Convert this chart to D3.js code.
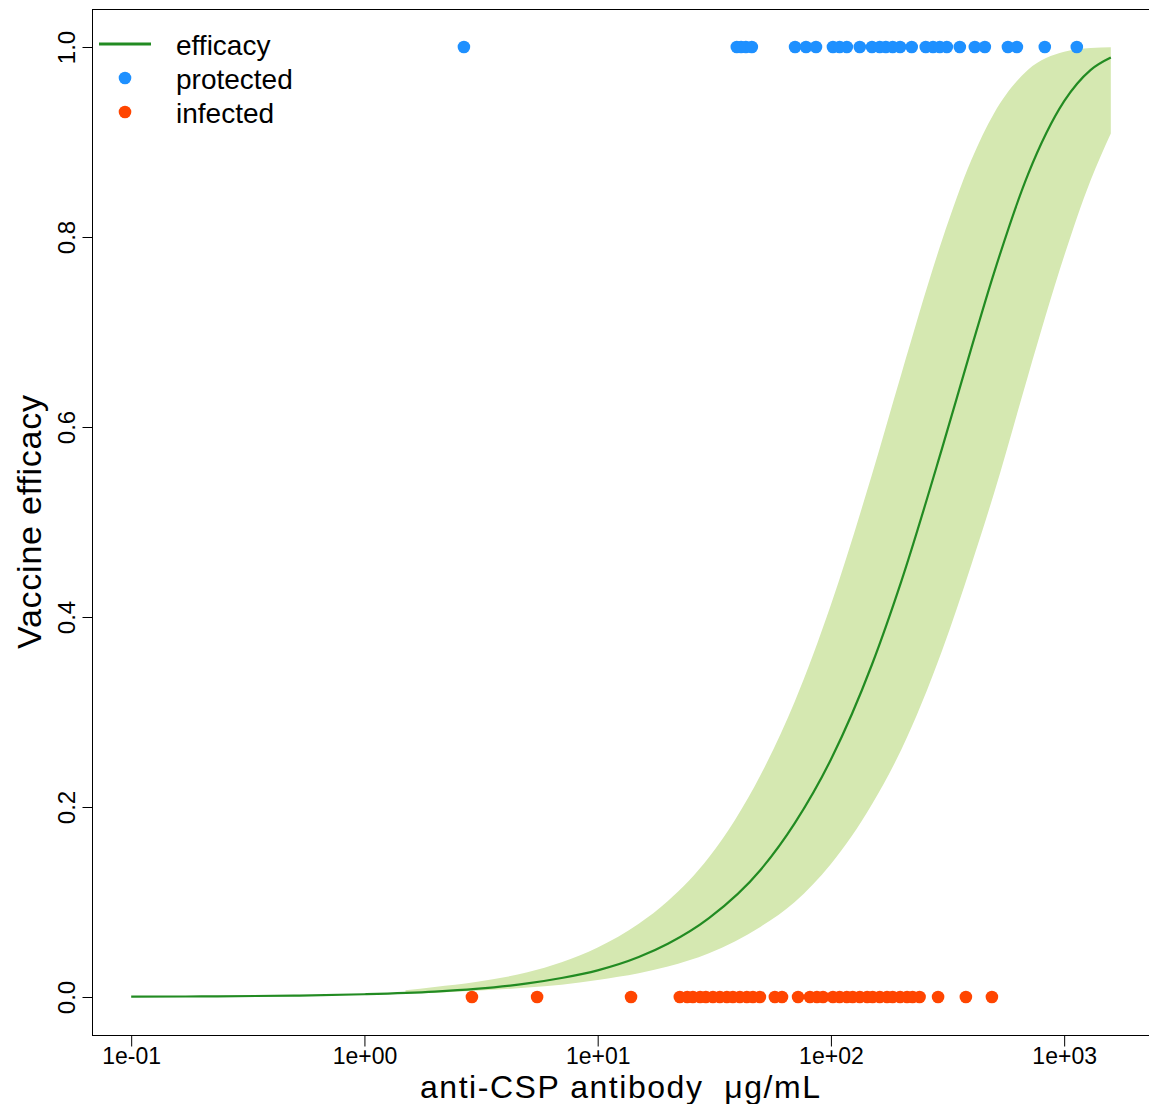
<!DOCTYPE html>
<html>
<head>
<meta charset="utf-8">
<script src="https://cdn.jsdelivr.net/npm/d3@7"></script>
<style>
  html, body { margin: 0; padding: 0; background: #fff; }
  svg { display: block; }
  text { font-family: "Liberation Sans", Arial, sans-serif; fill: #000; }
</style>
</head>
<body>
<svg id="chart" width="1149" height="1104"></svg>
<script>
// ---- data ----
const xTicks = [0.1, 1, 10, 100, 1000];
const xTickLabels = ["1e-01", "1e+00", "1e+01", "1e+02", "1e+03"];
const yTicks = [0, 0.2, 0.4, 0.6, 0.8, 1.0];
const yTickLabels = ["0.0", "0.2", "0.4", "0.6", "0.8", "1.0"];

// fitted efficacy curve
const curveX = [0.1, 0.2, 0.5, 1, 2, 3, 5, 7, 10, 15, 20, 30, 50, 70, 100, 150, 200, 300, 400, 500, 700, 1000, 1300, 1585];
const efficacy = [0.0003, 0.0006, 0.0014, 0.0029, 0.0057, 0.0086, 0.0143, 0.020, 0.028, 0.042, 0.056, 0.083, 0.134, 0.183, 0.250, 0.350, 0.437, 0.578, 0.683, 0.762, 0.866, 0.943, 0.976, 0.989];

// confidence band
const bandX = [1.5, 2, 3, 5, 7, 10, 15, 20, 30, 50, 70, 100, 150, 200, 300, 400, 500, 700, 1000, 1300, 1585];
const bandUpper = [0.007, 0.0106, 0.0158, 0.026, 0.0366, 0.052, 0.077, 0.101, 0.147, 0.234, 0.311, 0.413, 0.55, 0.655, 0.797, 0.881, 0.93, 0.976, 0.995, 0.999, 0.9998];
const bandLower = [0.004, 0.0045, 0.0065, 0.010, 0.013, 0.018, 0.025, 0.032, 0.046, 0.074, 0.10, 0.14, 0.203, 0.26, 0.365, 0.455, 0.53, 0.654, 0.78, 0.86, 0.909];

// antibody levels of subjects
const protectedX = [2.67, 39.5, 41.2, 43.2, 45.8, 70.2, 78.2, 86.3, 102, 109, 117, 133, 150, 162, 172, 184, 198, 222, 255, 274, 293, 314, 357, 414, 457, 574, 627, 826, 1133];
const infectedX = [2.89, 5.50, 13.9, 22.5, 24.2, 25.6, 27.5, 29.1, 31.2, 33.4, 35.8, 38.0, 40.7, 43.6, 46.3, 49.6, 57.5, 61.7, 72.3, 81.3, 87.1, 92.5, 102, 109, 117, 124, 133, 143, 151, 162, 174, 184, 198, 212, 224, 240, 288, 379, 490];

const legendLabels = ["efficacy", "protected", "infected"];
const colors = { line: "#228B22", band: "#d5e8b1", protected: "#1E90FF", infected: "#FF4500" };

// ---- layout ----
const svg = d3.select("#chart");
const box = { left: 92, right: 1150, top: 9, bottom: 1035 };
const lmin = -1, lmax = Math.log10(1585);
const pad = (lmax - lmin) * 0.04;
const x = d3.scaleLog().domain([Math.pow(10, lmin - pad), Math.pow(10, lmax + pad)]).range([box.left, box.right]);
const y = d3.scaleLinear().domain([-0.04, 1.04]).range([box.bottom, box.top]);

svg.append("defs").append("clipPath").attr("id", "clip")
  .append("rect").attr("x", box.left).attr("y", box.top)
  .attr("width", box.right - box.left).attr("height", box.bottom - box.top);

const plot = svg.append("g").attr("clip-path", "url(#clip)");

// band
const bandData = bandX.map((v, i) => ({ x: v, lo: bandLower[i], hi: bandUpper[i] }));
plot.append("path")
  .datum(bandData)
  .attr("fill", colors.band)
  .attr("d", d3.area().x(d => x(d.x)).y0(d => y(d.lo)).y1(d => y(d.hi)).curve(d3.curveMonotoneX));

// line
const lineData = curveX.map((v, i) => ({ x: v, y: efficacy[i] }));
plot.append("path")
  .datum(lineData)
  .attr("fill", "none")
  .attr("stroke", colors.line)
  .attr("stroke-width", 2.2)
  .attr("d", d3.line().x(d => x(d.x)).y(d => y(d.y)).curve(d3.curveMonotoneX));

// points
plot.selectAll(".prot").data(protectedX).enter().append("circle")
  .attr("cx", d => x(d)).attr("cy", y(1)).attr("r", 6.3).attr("fill", colors.protected);
plot.selectAll(".inf").data(infectedX).enter().append("circle")
  .attr("cx", d => x(d)).attr("cy", y(0)).attr("r", 6.3).attr("fill", colors.infected);

// box
svg.append("rect")
  .attr("x", box.left + 0.5).attr("y", box.top + 0.5)
  .attr("width", box.right - box.left).attr("height", box.bottom - box.top)
  .attr("fill", "none").attr("stroke", "#000").attr("stroke-width", 1);

// x axis
const xAxis = d3.axisBottom(x).tickValues(xTicks).tickFormat((d, i) => xTickLabels[i]).tickSize(11);
const gx = svg.append("g").attr("transform", `translate(0,${box.bottom + 0.5})`).call(xAxis);
gx.select(".domain").attr("d", `M${x(xTicks[0])},0H${x(xTicks[xTicks.length - 1])}`).attr("stroke", "#000");
gx.selectAll(".tick line").attr("stroke", "#000");
gx.selectAll(".tick text").attr("font-size", 23).attr("font-family", "Liberation Sans, Arial, sans-serif")
  .attr("y", 1064 - (box.bottom + 0.5)).attr("dy", null);

// y axis
const yAxis = d3.axisLeft(y).tickValues(yTicks).tickFormat((d, i) => yTickLabels[i]).tickSize(10).tickPadding(0);
const gy = svg.append("g").attr("transform", `translate(${box.left + 0.5},0)`).call(yAxis);
gy.select(".domain").attr("d", `M0,${y(0)}V${y(1)}`).attr("stroke", "#000");
gy.selectAll(".tick line").attr("stroke", "#000");
gy.selectAll(".tick text")
  .attr("font-size", 24).attr("font-family", "Liberation Sans, Arial, sans-serif")
  .attr("text-anchor", "middle").attr("x", null).attr("dy", null)
  .attr("transform", "translate(-18,0) rotate(-90)");

// axis titles
svg.append("text").attr("x", 420).attr("y", 1098)
  .attr("font-size", 32).attr("textLength", 400).attr("lengthAdjust", "spacing")
  .text("anti-CSP antibody\u00A0\u00A0μg/mL");
svg.append("text").attr("transform", `translate(41,${(y(0) + y(1)) / 2}) rotate(-90)`)
  .attr("text-anchor", "middle").attr("font-size", 34).attr("textLength", 254).attr("lengthAdjust", "spacing")
  .text("Vaccine efficacy");

// legend
const lg = svg.append("g");
lg.append("line").attr("x1", 99).attr("x2", 151).attr("y1", 44).attr("y2", 44)
  .attr("stroke", colors.line).attr("stroke-width", 3);
lg.append("circle").attr("cx", 125).attr("cy", 78).attr("r", 6.3).attr("fill", colors.protected);
lg.append("circle").attr("cx", 125).attr("cy", 112).attr("r", 6.3).attr("fill", colors.infected);
legendLabels.forEach((t, i) => {
  lg.append("text").attr("x", 176).attr("y", 55 + i * 34).attr("font-size", 28).text(t);
});
</script>
</body>
</html>
